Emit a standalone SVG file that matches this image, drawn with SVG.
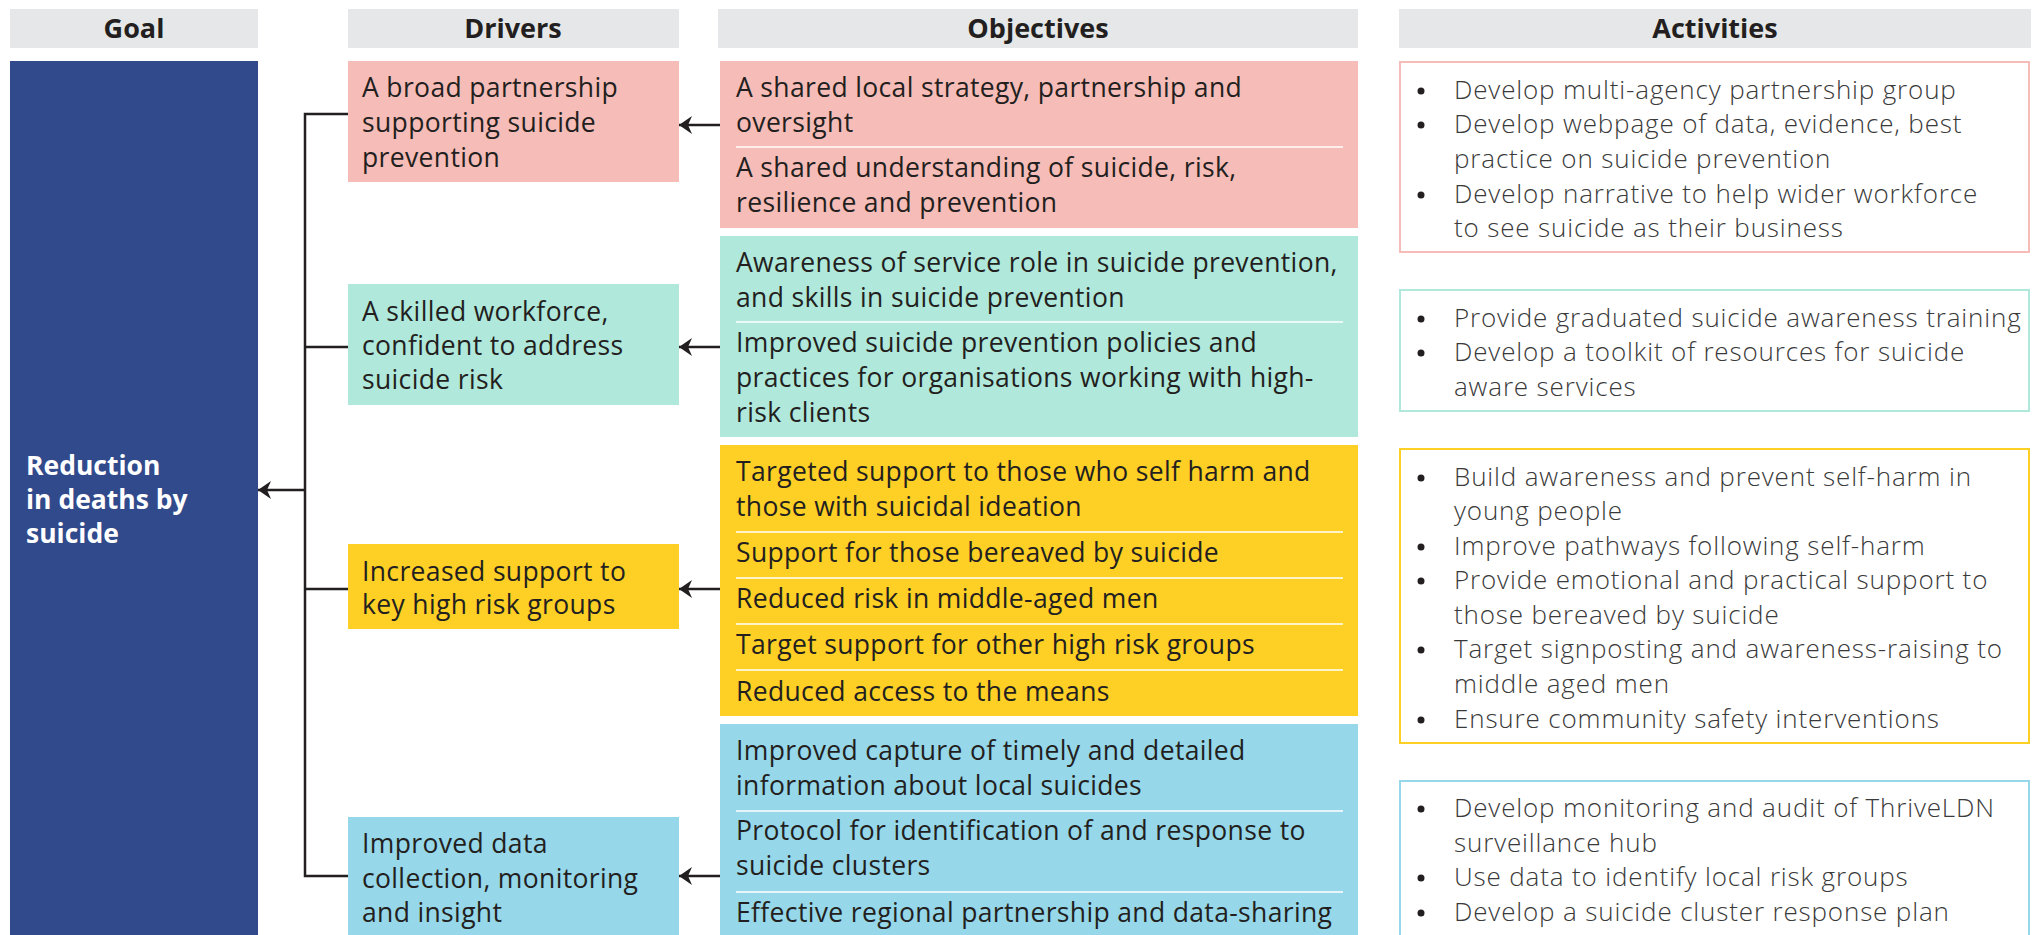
<svg xmlns="http://www.w3.org/2000/svg" width="2035" height="935" viewBox="0 0 2035 935">
<style>
.hdr{fill:#e6e7e8}
.ht{font-family:"Open Sans","Liberation Sans",sans-serif;font-weight:700;font-size:27px;fill:#231f20;text-anchor:middle}
.t{font-family:"Open Sans","Liberation Sans",sans-serif;font-weight:400;font-size:26.5px;letter-spacing:0.35px;fill:#231f20}
.a{font-family:"Open Sans","Liberation Sans",sans-serif;font-weight:300;font-size:26px;letter-spacing:0.85px;fill:#3a3a3a}
.g{font-family:"Open Sans","Liberation Sans",sans-serif;font-weight:700;font-size:26.5px;fill:#ffffff}
.b{fill:#231f20}
.div{stroke:#ffffff;stroke-width:1.5}
.pink{fill:#f6bcb7}.teal{fill:#b0e8dc}.yel{fill:#fecf24}.blue{fill:#96d7ea}
.conn{stroke:#231f20;stroke-width:2.5;fill:none}
</style>
<defs>
<marker id="ah" markerUnits="userSpaceOnUse" markerWidth="14" markerHeight="20" viewBox="0 -10 14 20" refX="13" refY="0" orient="auto">
<path d="M13,0 L0,-9 L4,0 L0,9 Z" fill="#231f20"/>
</marker>
</defs>

<g id="headers">
<rect class="hdr" x="10" y="9" width="248" height="39"/>
<text class="ht" x="134" y="38">Goal</text>
<rect class="hdr" x="348" y="9" width="331" height="39"/>
<text class="ht" x="513" y="38">Drivers</text>
<rect class="hdr" x="718" y="9" width="640" height="39"/>
<text class="ht" x="1038" y="38">Objectives</text>
<rect class="hdr" x="1399" y="9" width="632" height="39"/>
<text class="ht" x="1715" y="38">Activities</text>
</g>

<g id="goal">
<rect x="10" y="61" width="248" height="874" fill="#314a8c"/>
<text class="g" x="26" y="475">Reduction</text>
<text class="g" x="26" y="509">in deaths by</text>
<text class="g" x="26" y="543">suicide</text>
</g>

<g id="driver1">
<rect class="pink" x="348" y="61" width="331" height="121"/>
<text class="t" x="362" y="97">A broad partnership</text>
<text class="t" x="362" y="132">supporting suicide</text>
<text class="t" x="362" y="167">prevention</text>
</g>
<g id="driver2">
<rect class="teal" x="348" y="284" width="331" height="121"/>
<text class="t" x="362" y="321">A skilled workforce,</text>
<text class="t" x="362" y="355">confident to address</text>
<text class="t" x="362" y="389">suicide risk</text>
</g>
<g id="driver3">
<rect class="yel" x="348" y="544" width="331" height="85"/>
<text class="t" x="362" y="581">Increased support to</text>
<text class="t" x="362" y="614">key high risk groups</text>
</g>
<g id="driver4">
<rect class="blue" x="348" y="817" width="331" height="118"/>
<text class="t" x="362" y="853">Improved data</text>
<text class="t" x="362" y="888">collection, monitoring</text>
<text class="t" x="362" y="922">and insight</text>
</g>

<g id="objective1">
<rect class="pink" x="720" y="61" width="638" height="167"/>
<text class="t" x="736" y="97">A shared local strategy, partnership and</text>
<text class="t" x="736" y="132">oversight</text>
<line class="div" x1="736" y1="147" x2="1343" y2="147"/>
<text class="t" x="736" y="177">A shared understanding of suicide, risk,</text>
<text class="t" x="736" y="212">resilience and prevention</text>
</g>
<g id="objective2">
<rect class="teal" x="720" y="236" width="638" height="201"/>
<text class="t" x="736" y="272">Awareness of service role in suicide prevention,</text>
<text class="t" x="736" y="307">and skills in suicide prevention</text>
<line class="div" x1="736" y1="322" x2="1343" y2="322"/>
<text class="t" x="736" y="352">Improved suicide prevention policies and</text>
<text class="t" x="736" y="387">practices for organisations working with high-</text>
<text class="t" x="736" y="422">risk clients</text>
</g>
<g id="objective3">
<rect class="yel" x="720" y="445" width="638" height="271"/>
<text class="t" x="736" y="481">Targeted support to those who self harm and</text>
<text class="t" x="736" y="516">those with suicidal ideation</text>
<line class="div" x1="736" y1="532" x2="1343" y2="532"/>
<text class="t" x="736" y="562">Support for those bereaved by suicide</text>
<line class="div" x1="736" y1="578" x2="1343" y2="578"/>
<text class="t" x="736" y="608">Reduced risk in middle-aged men</text>
<line class="div" x1="736" y1="624" x2="1343" y2="624"/>
<text class="t" x="736" y="654">Target support for other high risk groups</text>
<line class="div" x1="736" y1="670" x2="1343" y2="670"/>
<text class="t" x="736" y="701">Reduced access to the means</text>
</g>
<g id="objective4">
<rect class="blue" x="720" y="724" width="638" height="211"/>
<text class="t" x="736" y="760">Improved capture of timely and detailed</text>
<text class="t" x="736" y="795">information about local suicides</text>
<line class="div" x1="736" y1="811" x2="1343" y2="811"/>
<text class="t" x="736" y="840">Protocol for identification of and response to</text>
<text class="t" x="736" y="875">suicide clusters</text>
<line class="div" x1="736" y1="892" x2="1343" y2="892"/>
<text class="t" x="736" y="922">Effective regional partnership and data-sharing</text>
</g>

<g id="activity1">
<rect x="1400" y="62" width="629" height="190" fill="#ffffff" stroke="#f6bcb7" stroke-width="2"/>
<circle class="b" cx="1421" cy="91" r="3.5"/>
<circle class="b" cx="1421" cy="125" r="3.5"/>
<circle class="b" cx="1421" cy="195" r="3.5"/>
<g class="a">
<text x="1454" y="99">Develop multi-agency partnership group</text>
<text x="1454" y="133">Develop webpage of data, evidence, best</text>
<text x="1454" y="168">practice on suicide prevention</text>
<text x="1454" y="203">Develop narrative to help wider workforce</text>
<text x="1454" y="237">to see suicide as their business</text>
</g>
</g>
<g id="activity2">
<rect x="1400" y="290" width="629" height="121" fill="#ffffff" stroke="#b0e8dc" stroke-width="2"/>
<circle class="b" cx="1421" cy="319" r="3.5"/>
<circle class="b" cx="1421" cy="353" r="3.5"/>
<g class="a">
<text x="1454" y="327">Provide graduated suicide awareness training</text>
<text x="1454" y="361">Develop a toolkit of resources for suicide</text>
<text x="1454" y="396">aware services</text>
</g>
</g>
<g id="activity3">
<rect x="1400" y="449" width="629" height="294" fill="#ffffff" stroke="#fecf24" stroke-width="2"/>
<circle class="b" cx="1421" cy="478" r="3.5"/>
<circle class="b" cx="1421" cy="547" r="3.5"/>
<circle class="b" cx="1421" cy="581" r="3.5"/>
<circle class="b" cx="1421" cy="650" r="3.5"/>
<circle class="b" cx="1421" cy="720" r="3.5"/>
<g class="a">
<text x="1454" y="486">Build awareness and prevent self-harm in</text>
<text x="1454" y="520">young people</text>
<text x="1454" y="555">Improve pathways following self-harm</text>
<text x="1454" y="589">Provide emotional and practical support to</text>
<text x="1454" y="624">those bereaved by suicide</text>
<text x="1454" y="658">Target signposting and awareness-raising to</text>
<text x="1454" y="693">middle aged men</text>
<text x="1454" y="728">Ensure community safety interventions</text>
</g>
</g>
<g id="activity4">
<rect x="1400" y="781" width="629" height="160" fill="#ffffff" stroke="#96d7ea" stroke-width="2"/>
<circle class="b" cx="1421" cy="809" r="3.5"/>
<circle class="b" cx="1421" cy="878" r="3.5"/>
<circle class="b" cx="1421" cy="913" r="3.5"/>
<g class="a">
<text x="1454" y="817">Develop monitoring and audit of ThriveLDN</text>
<text x="1454" y="852">surveillance hub</text>
<text x="1454" y="886">Use data to identify local risk groups</text>
<text x="1454" y="921">Develop a suicide cluster response plan</text>
</g>
</g>

<g id="connectors">
<path class="conn" d="M348,114 H305 V876 H348"/>
<path class="conn" d="M305,347 H348"/>
<path class="conn" d="M305,589 H348"/>
<path class="conn" d="M305,490 H258" marker-end="url(#ah)"/>
<path class="conn" d="M720,125 H679" marker-end="url(#ah)"/>
<path class="conn" d="M720,347 H679" marker-end="url(#ah)"/>
<path class="conn" d="M720,589 H679" marker-end="url(#ah)"/>
<path class="conn" d="M720,876 H679" marker-end="url(#ah)"/>
</g>
</svg>
